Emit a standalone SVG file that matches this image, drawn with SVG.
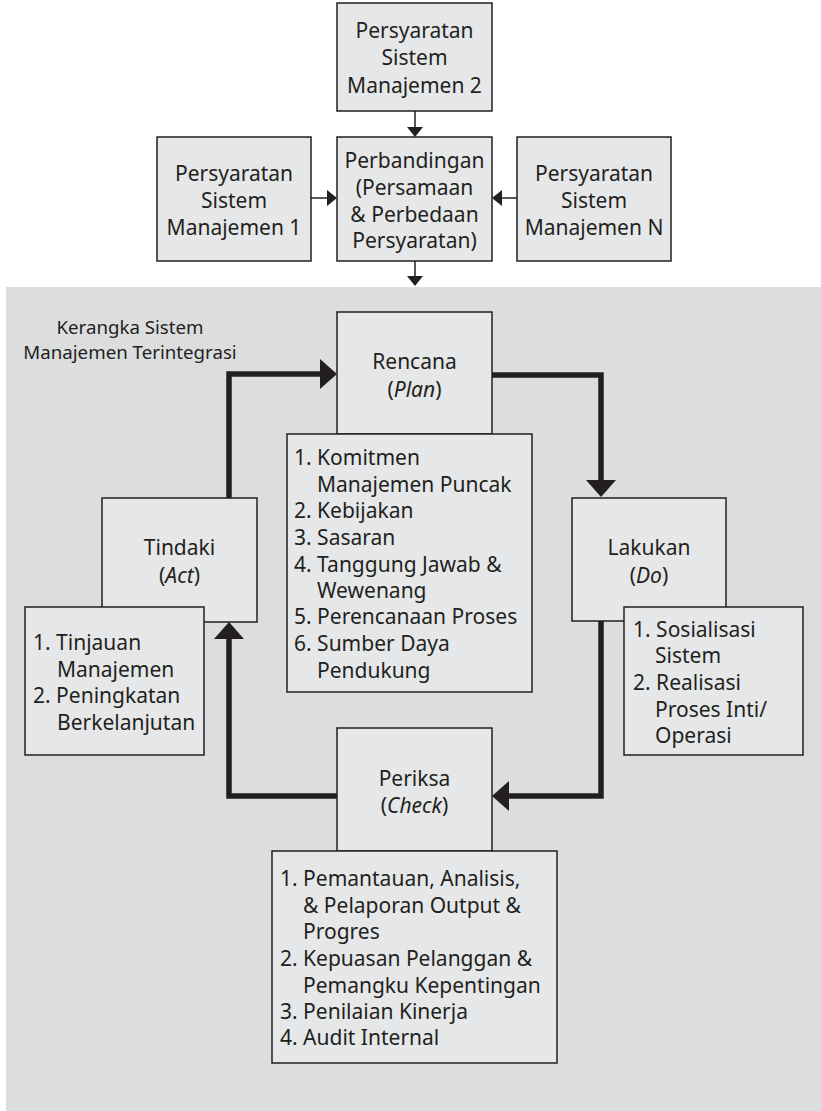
<svg xmlns="http://www.w3.org/2000/svg" width="821" height="1111" viewBox="0 0 821 1111">
  <style>
    .box { fill: #e6e7e8; stroke: #231f20; stroke-width: 1.5; }
    .txt { font-family: "Noto Sans", "Open Sans", sans-serif; font-size: 21px; fill: #231f20; }
    .ctr { text-anchor: middle; }
    .cap { font-family: "Noto Sans", "Open Sans", sans-serif; font-size: 18.7px; fill: #231f20; text-anchor: middle; }
    .thin { fill: none; stroke: #231f20; stroke-width: 1.5; }
    .thick { fill: none; stroke: #231f20; stroke-width: 5.5; stroke-linejoin: miter; }
  </style>
  <defs>
    <marker id="headThin" viewBox="0 0 10 16" refX="0" refY="8" markerWidth="10" markerHeight="16" markerUnits="userSpaceOnUse" orient="auto">
      <path d="M0,0 L10,8 L0,16 Z" fill="#231f20"/>
    </marker>
    <marker id="headThick" viewBox="0 0 17 30" refX="0" refY="15" markerWidth="17" markerHeight="30" markerUnits="userSpaceOnUse" orient="auto">
      <path d="M0,0 L17,15 L0,30 Z" fill="#231f20"/>
    </marker>
  </defs>

  <!-- integrated framework panel -->
  <rect x="6" y="287" width="815" height="824" fill="#dcdddf"/>
  <text class="cap" x="130" y="334">Kerangka Sistem</text>
  <text class="cap" x="130" y="359">Manajemen Terintegrasi</text>

  <g id="connectors">
    <path class="thin" d="M415,111 V127" marker-end="url(#headThin)"/>
    <path class="thin" d="M311,198 H327" marker-end="url(#headThin)"/>
    <path class="thin" d="M517,198 H502" marker-end="url(#headThin)"/>
    <path class="thin" d="M415,261 V276" marker-end="url(#headThin)"/>
    <path class="thick" d="M229,498 V374 H320" marker-end="url(#headThick)"/>
    <path class="thick" d="M492,375 H601 V480" marker-end="url(#headThick)"/>
    <path class="thick" d="M601,621 V796 H509" marker-end="url(#headThick)"/>
    <path class="thick" d="M337,796 H229 V639" marker-end="url(#headThick)"/>
  </g>

  <g id="req2">
    <rect class="box" x="337" y="3" width="155" height="108"/>
    <text class="txt ctr"><tspan x="414.5" y="38">Persyaratan</tspan><tspan x="414.5" y="65">Sistem</tspan><tspan x="414.5" y="93">Manajemen 2</tspan></text>
  </g>
  <g id="req1">
    <rect class="box" x="157" y="137" width="154" height="124"/>
    <text class="txt ctr"><tspan x="234" y="181">Persyaratan</tspan><tspan x="234" y="208">Sistem</tspan><tspan x="234" y="235">Manajemen 1</tspan></text>
  </g>
  <g id="comparison">
    <rect class="box" x="337" y="137" width="155" height="124"/>
    <text class="txt ctr"><tspan x="414.5" y="168">Perbandingan</tspan><tspan x="414.5" y="195">(Persamaan</tspan><tspan x="414.5" y="222">&amp; Perbedaan</tspan><tspan x="414.5" y="248">Persyaratan)</tspan></text>
  </g>
  <g id="reqN">
    <rect class="box" x="517" y="137" width="154" height="124"/>
    <text class="txt ctr"><tspan x="594" y="181">Persyaratan</tspan><tspan x="594" y="208">Sistem</tspan><tspan x="594" y="235">Manajemen N</tspan></text>
  </g>

  <g id="plan">
    <rect class="box" x="337" y="312" width="155" height="122"/>
    <text class="txt ctr"><tspan x="414.5" y="369">Rencana</tspan><tspan x="414.5" y="397">(<tspan font-style="italic">Plan</tspan>)</tspan></text>
    <rect class="box" x="287" y="434" width="245" height="258"/>
    <text class="txt">
      <tspan x="294" y="465">1. Komitmen</tspan>
      <tspan x="317" y="492">Manajemen Puncak</tspan>
      <tspan x="294" y="518">2. Kebijakan</tspan>
      <tspan x="294" y="545">3. Sasaran</tspan>
      <tspan x="294" y="572">4. Tanggung Jawab &amp;</tspan>
      <tspan x="317" y="598">Wewenang</tspan>
      <tspan x="294" y="624">5. Perencanaan Proses</tspan>
      <tspan x="294" y="651">6. Sumber Daya</tspan>
      <tspan x="317" y="678">Pendukung</tspan>
    </text>
  </g>

  <g id="act">
    <rect class="box" x="102" y="498" width="155" height="124"/>
    <text class="txt ctr"><tspan x="179.5" y="555">Tindaki</tspan><tspan x="179.5" y="583">(<tspan font-style="italic">Act</tspan>)</tspan></text>
    <rect class="box" x="25" y="607" width="179" height="148"/>
    <text class="txt">
      <tspan x="33" y="650">1. Tinjauan</tspan>
      <tspan x="57" y="677">Manajemen</tspan>
      <tspan x="33" y="703">2. Peningkatan</tspan>
      <tspan x="57" y="730">Berkelanjutan</tspan>
    </text>
  </g>

  <g id="do">
    <rect class="box" x="572" y="498" width="154" height="123"/>
    <text class="txt ctr"><tspan x="649" y="555">Lakukan</tspan><tspan x="649" y="583">(<tspan font-style="italic">Do</tspan>)</tspan></text>
    <rect class="box" x="624" y="607" width="179" height="148"/>
    <text class="txt">
      <tspan x="633" y="637">1. Sosialisasi</tspan>
      <tspan x="655" y="663">Sistem</tspan>
      <tspan x="633" y="690">2. Realisasi</tspan>
      <tspan x="655" y="717">Proses Inti/</tspan>
      <tspan x="655" y="743">Operasi</tspan>
    </text>
  </g>

  <g id="check">
    <rect class="box" x="337" y="728" width="155" height="123"/>
    <text class="txt ctr"><tspan x="414.5" y="786">Periksa</tspan><tspan x="414.5" y="813">(<tspan font-style="italic">Check</tspan>)</tspan></text>
    <rect class="box" x="272" y="851" width="285" height="212"/>
    <text class="txt">
      <tspan x="280" y="886">1. Pemantauan, Analisis,</tspan>
      <tspan x="303" y="913">&amp; Pelaporan Output &amp;</tspan>
      <tspan x="303" y="939">Progres</tspan>
      <tspan x="280" y="966">2. Kepuasan Pelanggan &amp;</tspan>
      <tspan x="303" y="993">Pemangku Kepentingan</tspan>
      <tspan x="280" y="1019">3. Penilaian Kinerja</tspan>
      <tspan x="280" y="1045">4. Audit Internal</tspan>
    </text>
  </g>
</svg>
